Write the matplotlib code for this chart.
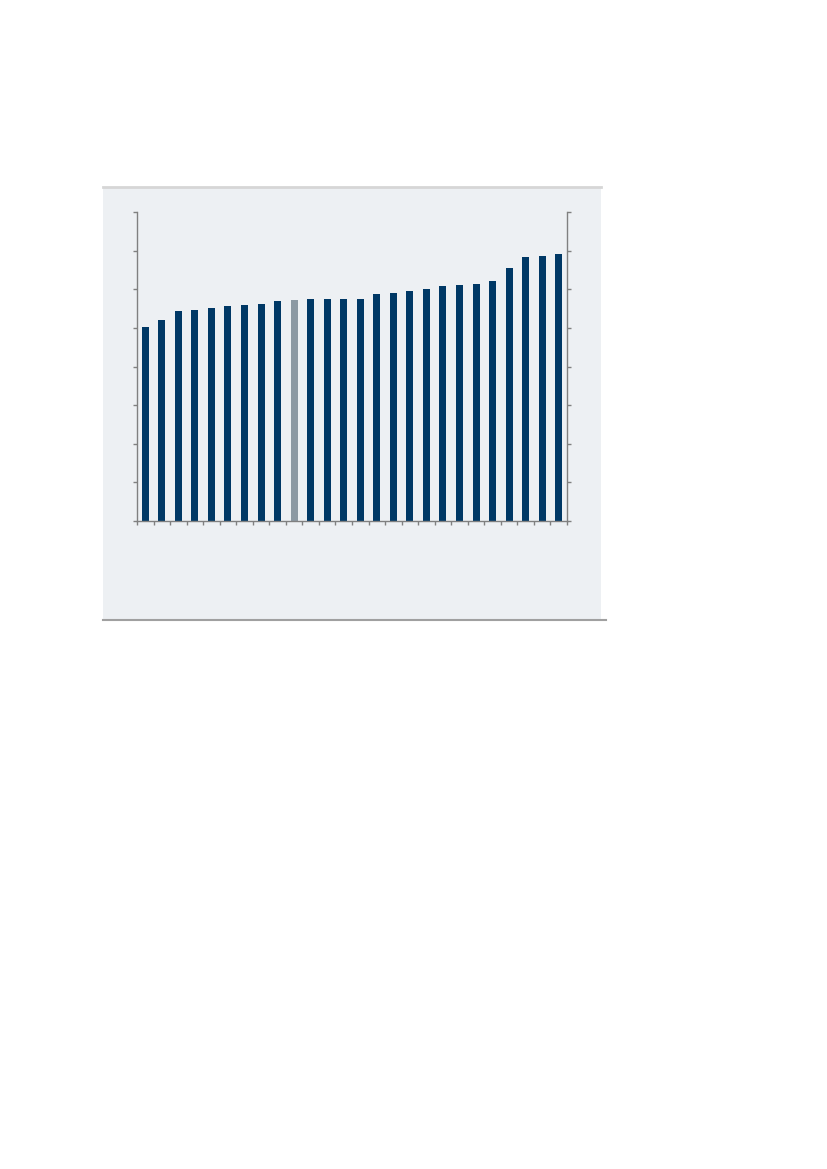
import numpy as np
import matplotlib.pyplot as plt
from matplotlib.patches import Rectangle
from matplotlib.lines import Line2D


# bar heights (axis runs 0 to 8)
values = [
    5.03, 5.21, 5.44, 5.47, 5.52, 5.57, 5.60, 5.62, 5.70, 5.73,
    5.76, 5.76, 5.76, 5.76, 5.88, 5.91, 5.96, 6.01, 6.09, 6.11,
    6.14, 6.22, 6.55, 6.84, 6.87, 6.92
]

highlight = 9

navy = "#003865"
grey = "#8c99a3"
panel = "#edf0f3"
axis_grey = "#808080"


fig = plt.figure(figsize=(8.27, 11.69), dpi=100)

W, H = 827, 1169

# light background panel behind the chart
fig.patches.append(
    Rectangle(
        (103 / W, 1 - 620 / H),
        (601 - 103) / W,
        (620 - 187) / H,
        transform=fig.transFigure,
        facecolor=panel,
        edgecolor="none",
        zorder=-10
    )
)

fig.lines.append(
    Line2D(
        [103 / W, 601 / W],
        [1 - 187 / H, 1 - 187 / H],
        transform=fig.transFigure,
        color="#d6d6d6",
        linewidth=2,
        zorder=-5
    )
)

fig.lines.append(
    Line2D(
        [103 / W, 606 / W],
        [1 - 620 / H, 1 - 620 / H],
        transform=fig.transFigure,
        color="#a0a0a0",
        linewidth=1.5,
        zorder=-5
    )
)


ax = fig.add_axes([
    137 / W,
    1 - 521 / H,
    (567 - 137) / W,
    (521 - 212) / H
])

ax.set_zorder(5)
ax.set_facecolor("none")

x = np.arange(len(values))
colors = [grey if i == highlight else navy for i in x]

ax.bar(
    x,
    values,
    width=0.42,
    color=colors,
    edgecolor="none",
    zorder=2
)

ax.set_xlim(-0.5, len(values) - 0.5)
ax.set_ylim(0, 8)

ax.set_yticks(np.arange(0, 9))
ax.set_xticks(np.arange(-0.5, len(values), 1.0))

ax.tick_params(
    axis="both",
    direction="out",
    length=3,
    width=1,
    color=axis_grey,
    labelleft=False,
    labelbottom=False
)

ax.tick_params(
    axis="y",
    right=True,
    labelright=False
)

ax.spines["top"].set_visible(False)

for side in ["left", "right", "bottom"]:
    ax.spines[side].set_color(axis_grey)
    ax.spines[side].set_linewidth(1)


fig.savefig("out.png", dpi=100)
